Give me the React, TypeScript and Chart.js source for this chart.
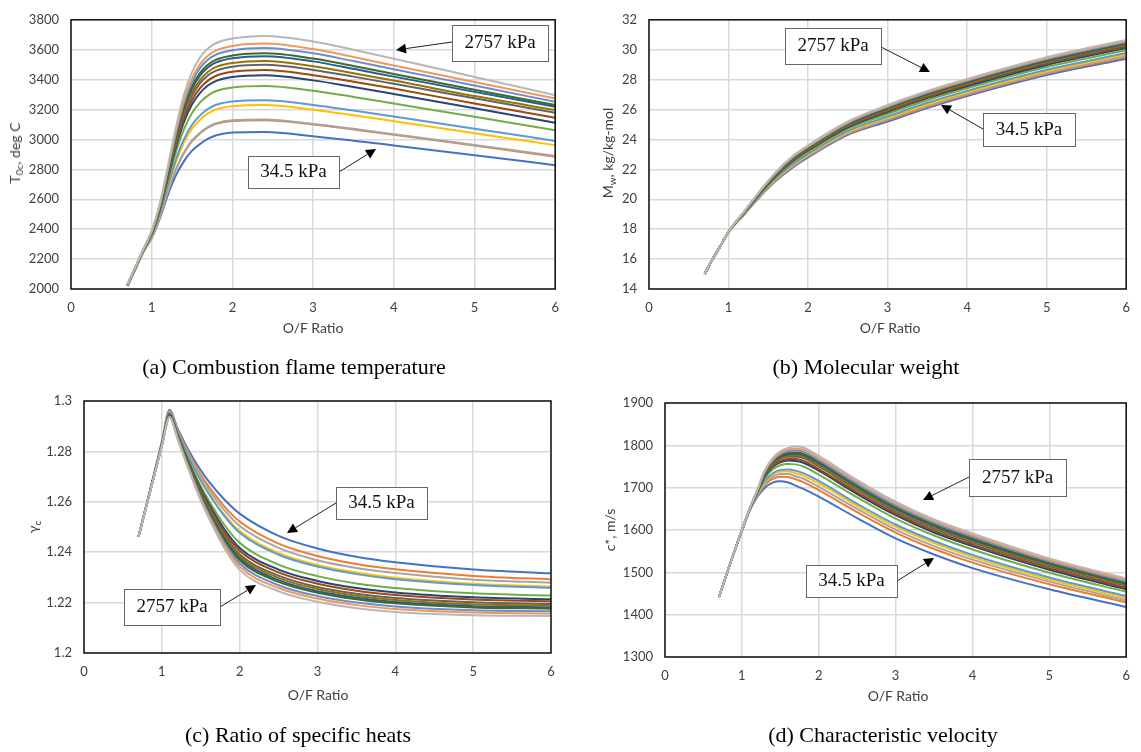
import React, { useEffect, useRef } from "react";
import { Chart, registerables } from "chart.js";
Chart.register(...registerables);

// Excel default series colours, series 1..15 (34.5 kPa ... 2757 kPa)
const COLORS = [
  "#4472C4", "#ED7D31", "#A5A5A5", "#FFC000", "#5B9BD5", "#70AD47", "#264478", "#9E480E",
  "#636363", "#997300", "#255E91", "#43682B", "#698ED0", "#F1975A", "#B7B7B7",
];

// ---------- (a) combustion flame temperature, deg C ----------
const OF_A = [0.7, 0.8, 0.9, 1.0, 1.1, 1.2, 1.3, 1.4, 1.5, 1.6, 1.7, 1.8, 2.0, 2.4, 3.0, 3.5, 4.0, 5.0, 6.0];
const TEMP = [
  [2020, 2135, 2250, 2340, 2470, 2630, 2760, 2855, 2925, 2970, 3005, 3028, 3046, 3050, 3022, 2992, 2960, 2895, 2828],
  [2021, 2137, 2252, 2346, 2481, 2652, 2798, 2909, 2989, 3041, 3080, 3104, 3124, 3129, 3100, 3067, 3031, 2959, 2885],
  [2021, 2137, 2253, 2347, 2483, 2655, 2802, 2913, 2993, 3045, 3084, 3108, 3128, 3133, 3104, 3071, 3035, 2963, 2889],
  [2023, 2139, 2256, 2354, 2498, 2683, 2850, 2980, 3072, 3132, 3174, 3201, 3222, 3230, 3199, 3162, 3122, 3041, 2962],
  [2023, 2140, 2257, 2357, 2503, 2693, 2866, 3002, 3098, 3161, 3205, 3232, 3254, 3262, 3231, 3193, 3153, 3072, 2990],
  [2025, 2142, 2260, 2364, 2518, 2721, 2914, 3069, 3177, 3248, 3295, 3324, 3348, 3358, 3326, 3284, 3240, 3152, 3062],
  [2026, 2144, 2262, 2370, 2529, 2742, 2949, 3118, 3235, 3312, 3362, 3392, 3417, 3429, 3395, 3351, 3304, 3208, 3112],
  [2026, 2145, 2263, 2372, 2535, 2753, 2966, 3142, 3264, 3344, 3395, 3426, 3452, 3464, 3430, 3386, 3340, 3240, 3145],
  [2027, 2146, 2264, 2375, 2540, 2763, 2984, 3167, 3293, 3376, 3429, 3460, 3486, 3499, 3465, 3420, 3372, 3275, 3178],
  [2027, 2146, 2265, 2377, 2544, 2771, 2997, 3184, 3314, 3399, 3453, 3485, 3511, 3525, 3490, 3442, 3394, 3290, 3197],
  [2028, 2147, 2266, 2380, 2549, 2780, 3013, 3207, 3340, 3428, 3483, 3515, 3543, 3557, 3522, 3472, 3420, 3318, 3219],
  [2028, 2147, 2266, 2381, 2552, 2786, 3022, 3220, 3356, 3446, 3501, 3534, 3562, 3576, 3541, 3491, 3438, 3332, 3230],
  [2029, 2148, 2268, 2384, 2558, 2796, 3040, 3244, 3384, 3478, 3534, 3568, 3596, 3612, 3576, 3524, 3470, 3360, 3252],
  [2029, 2149, 2268, 2386, 2562, 2805, 3054, 3264, 3408, 3504, 3562, 3596, 3625, 3641, 3604, 3551, 3494, 3384, 3274],
  [2030, 2150, 2270, 2390, 2570, 2820, 3080, 3300, 3450, 3550, 3610, 3645, 3675, 3692, 3655, 3600, 3540, 3418, 3296],
];

// ---------- (b) molecular weight, kg/kg-mol ----------
const OF_B = [0.7, 0.8, 0.9, 1.0, 1.2, 1.4, 1.6, 1.8, 2.0, 2.5, 3.0, 3.5, 4.0, 5.0, 6.0];
const MW = [
  [15.0, 16.0, 16.9, 17.80, 19.00, 20.20, 21.25, 22.10, 22.80, 24.30, 25.20, 26.10, 26.90, 28.30, 29.40],
  [15.0, 16.0, 16.9, 17.80, 19.02, 20.23, 21.30, 22.16, 22.86, 24.37, 25.29, 26.19, 26.99, 28.40, 29.50],
  [15.0, 16.0, 16.9, 17.81, 19.03, 20.26, 21.33, 22.21, 22.91, 24.43, 25.35, 26.26, 27.06, 28.47, 29.58],
  [15.0, 16.0, 16.9, 17.81, 19.04, 20.29, 21.38, 22.27, 22.98, 24.50, 25.44, 26.35, 27.15, 28.56, 29.68],
  [15.0, 16.0, 16.9, 17.82, 19.06, 20.32, 21.43, 22.33, 23.04, 24.57, 25.53, 26.45, 27.25, 28.66, 29.78],
  [15.0, 16.0, 16.9, 17.82, 19.09, 20.38, 21.52, 22.44, 23.16, 24.71, 25.70, 26.62, 27.42, 28.84, 29.96],
  [15.0, 16.0, 16.9, 17.83, 19.11, 20.43, 21.59, 22.53, 23.26, 24.81, 25.83, 26.76, 27.56, 28.98, 30.11],
  [15.0, 16.0, 16.9, 17.83, 19.13, 20.46, 21.63, 22.58, 23.31, 24.88, 25.90, 26.84, 27.64, 29.07, 30.20],
  [15.0, 16.0, 16.9, 17.84, 19.14, 20.48, 21.68, 22.63, 23.37, 24.94, 25.98, 26.92, 27.72, 29.15, 30.29],
  [15.0, 16.0, 16.9, 17.84, 19.15, 20.50, 21.70, 22.66, 23.40, 24.98, 26.03, 26.96, 27.76, 29.20, 30.34],
  [15.0, 16.0, 16.9, 17.84, 19.16, 20.52, 21.73, 22.70, 23.44, 25.02, 26.08, 27.02, 27.82, 29.26, 30.40],
  [15.0, 16.0, 16.9, 17.84, 19.17, 20.54, 21.75, 22.73, 23.47, 25.06, 26.12, 27.07, 27.87, 29.31, 30.45],
  [15.0, 16.0, 16.9, 17.84, 19.18, 20.56, 21.78, 22.77, 23.51, 25.10, 26.18, 27.12, 27.92, 29.37, 30.51],
  [15.0, 16.0, 16.9, 17.85, 19.19, 20.58, 21.81, 22.81, 23.55, 25.15, 26.23, 27.18, 27.98, 29.43, 30.58],
  [15.0, 16.0, 16.9, 17.85, 19.20, 20.60, 21.85, 22.85, 23.60, 25.20, 26.30, 27.25, 28.05, 29.50, 30.65],
];

// ---------- (c) ratio of specific heats ----------
const OF_C = [0.7, 0.8, 0.9, 1.0, 1.1, 1.2, 1.3, 1.4, 1.5, 1.6, 1.8, 2.0, 2.5, 3.0, 3.5, 4.0, 5.0, 6.0];
const GAMMA = [
  [1.2461, 1.2585, 1.2710, 1.2838, 1.2965, 1.2893, 1.2830, 1.2774, 1.2725, 1.2682, 1.2610, 1.2553, 1.2465, 1.2415, 1.2382, 1.2360, 1.2331, 1.2316],
  [1.2461, 1.2584, 1.2709, 1.2835, 1.2961, 1.2887, 1.2821, 1.2761, 1.2708, 1.2662, 1.2583, 1.2522, 1.2434, 1.2385, 1.2353, 1.2332, 1.2306, 1.2292],
  [1.2461, 1.2584, 1.2708, 1.2834, 1.2958, 1.2884, 1.2816, 1.2754, 1.2699, 1.2650, 1.2568, 1.2504, 1.2417, 1.2368, 1.2337, 1.2317, 1.2291, 1.2279],
  [1.2461, 1.2583, 1.2707, 1.2832, 1.2956, 1.2880, 1.2810, 1.2746, 1.2688, 1.2637, 1.2550, 1.2484, 1.2397, 1.2349, 1.2319, 1.2299, 1.2275, 1.2264],
  [1.2461, 1.2583, 1.2707, 1.2832, 1.2955, 1.2879, 1.2808, 1.2743, 1.2684, 1.2633, 1.2545, 1.2477, 1.2390, 1.2343, 1.2313, 1.2293, 1.2270, 1.2259],
  [1.2461, 1.2582, 1.2705, 1.2829, 1.2949, 1.2872, 1.2796, 1.2726, 1.2663, 1.2607, 1.2510, 1.2437, 1.2351, 1.2305, 1.2276, 1.2258, 1.2237, 1.2228],
  [1.2461, 1.2582, 1.2704, 1.2827, 1.2947, 1.2868, 1.2790, 1.2718, 1.2652, 1.2594, 1.2493, 1.2417, 1.2331, 1.2286, 1.2258, 1.2240, 1.2221, 1.2213],
  [1.2461, 1.2582, 1.2703, 1.2826, 1.2945, 1.2866, 1.2787, 1.2713, 1.2646, 1.2586, 1.2483, 1.2406, 1.2320, 1.2275, 1.2247, 1.2230, 1.2212, 1.2205],
  [1.2461, 1.2581, 1.2703, 1.2825, 1.2943, 1.2864, 1.2783, 1.2708, 1.2639, 1.2578, 1.2472, 1.2392, 1.2307, 1.2262, 1.2235, 1.2218, 1.2201, 1.2194],
  [1.2461, 1.2581, 1.2702, 1.2824, 1.2942, 1.2862, 1.2781, 1.2704, 1.2634, 1.2572, 1.2464, 1.2384, 1.2298, 1.2254, 1.2227, 1.2210, 1.2193, 1.2188],
  [1.2461, 1.2581, 1.2702, 1.2824, 1.2941, 1.2860, 1.2778, 1.2700, 1.2629, 1.2566, 1.2456, 1.2375, 1.2289, 1.2245, 1.2219, 1.2202, 1.2186, 1.2181],
  [1.2461, 1.2581, 1.2702, 1.2823, 1.2940, 1.2859, 1.2776, 1.2698, 1.2625, 1.2562, 1.2451, 1.2368, 1.2282, 1.2239, 1.2213, 1.2197, 1.2181, 1.2176],
  [1.2461, 1.2581, 1.2701, 1.2822, 1.2938, 1.2857, 1.2772, 1.2692, 1.2618, 1.2553, 1.2439, 1.2355, 1.2269, 1.2226, 1.2200, 1.2185, 1.2170, 1.2166],
  [1.2461, 1.2580, 1.2701, 1.2821, 1.2937, 1.2855, 1.2769, 1.2688, 1.2612, 1.2546, 1.2430, 1.2343, 1.2258, 1.2216, 1.2190, 1.2175, 1.2161, 1.2157],
  [1.2461, 1.2580, 1.2700, 1.2820, 1.2935, 1.2852, 1.2765, 1.2682, 1.2605, 1.2537, 1.2418, 1.2330, 1.2245, 1.2203, 1.2178, 1.2163, 1.2150, 1.2147],
];

// ---------- (d) characteristic velocity, m/s ----------
const OF_D = [0.7, 0.8, 0.9, 1.0, 1.1, 1.2, 1.3, 1.4, 1.5, 1.6, 1.7, 1.8, 2.0, 2.5, 3.0, 3.5, 4.0, 5.0, 6.0];
const CSTAR = [
  [1440, 1495, 1548, 1598, 1645, 1678, 1700, 1712, 1715, 1712, 1705, 1697, 1679, 1628, 1580, 1542, 1510, 1460, 1418],
  [1440, 1495, 1548, 1598, 1646, 1681, 1707, 1721, 1726, 1725, 1720, 1713, 1694, 1642, 1594, 1555, 1523, 1472, 1429],
  [1440, 1495, 1548, 1598, 1646, 1682, 1710, 1726, 1732, 1732, 1727, 1721, 1702, 1650, 1601, 1562, 1530, 1478, 1434],
  [1440, 1495, 1548, 1599, 1647, 1683, 1713, 1731, 1738, 1738, 1734, 1728, 1710, 1657, 1608, 1569, 1536, 1483, 1439],
  [1440, 1495, 1548, 1599, 1647, 1685, 1716, 1734, 1742, 1743, 1740, 1734, 1716, 1662, 1613, 1574, 1541, 1488, 1444],
  [1440, 1495, 1548, 1599, 1648, 1687, 1723, 1743, 1753, 1756, 1755, 1750, 1731, 1677, 1627, 1587, 1554, 1499, 1454],
  [1440, 1495, 1548, 1599, 1648, 1689, 1727, 1749, 1760, 1764, 1763, 1759, 1740, 1685, 1635, 1594, 1562, 1506, 1460],
  [1440, 1495, 1548, 1599, 1648, 1690, 1729, 1751, 1763, 1768, 1768, 1764, 1744, 1689, 1639, 1598, 1566, 1510, 1464],
  [1440, 1495, 1548, 1600, 1649, 1691, 1731, 1755, 1768, 1773, 1773, 1770, 1750, 1695, 1644, 1603, 1571, 1514, 1468],
  [1440, 1495, 1548, 1600, 1649, 1691, 1733, 1757, 1770, 1776, 1777, 1773, 1754, 1698, 1648, 1607, 1574, 1517, 1470],
  [1440, 1495, 1548, 1600, 1649, 1692, 1734, 1760, 1773, 1779, 1780, 1777, 1758, 1702, 1651, 1610, 1577, 1520, 1473],
  [1440, 1495, 1548, 1600, 1649, 1692, 1736, 1761, 1775, 1782, 1783, 1780, 1761, 1705, 1654, 1613, 1580, 1522, 1475],
  [1440, 1495, 1548, 1600, 1650, 1693, 1738, 1764, 1779, 1786, 1788, 1785, 1765, 1709, 1658, 1617, 1584, 1526, 1478],
  [1440, 1495, 1548, 1600, 1650, 1694, 1740, 1767, 1782, 1790, 1792, 1790, 1770, 1714, 1663, 1621, 1588, 1529, 1482],
  [1440, 1495, 1548, 1600, 1650, 1695, 1742, 1770, 1786, 1794, 1797, 1795, 1775, 1718, 1667, 1625, 1592, 1533, 1485],
];

const X_TICK_MIN = 0;
const X_TICK_MAX = 6;

const TICK_FONT = { family: "Lato, 'Open Sans', sans-serif", size: 13 };
const TICK_COLOR = "#404040";
const GRID_COLOR = "#d9d9d9";

type Panel = {
  left: number; top: number; width: number; height: number;
  plotL: number; plotT: number; plotR: number; plotB: number;
  xs: number[]; series: number[][];
  yMin: number; yMax: number; yStep: number;
  fmt: (v: number) => string;
};

const PANELS: Panel[] = [
  { left: 0, top: 0, width: 570, height: 340, plotL: 71, plotT: 17, plotR: 556, plotB: 289,
    xs: OF_A, series: TEMP, yMin: 2000, yMax: 3800, yStep: 200, fmt: (v) => String(Math.round(v)) },
  { left: 570, top: 0, width: 571, height: 340, plotL: 649, plotT: 16, plotR: 1131, plotB: 289,
    xs: OF_B, series: MW, yMin: 14, yMax: 32, yStep: 2, fmt: (v) => String(Math.round(v)) },
  { left: 0, top: 380, width: 570, height: 330, plotL: 84, plotT: 401, plotR: 551, plotB: 653,
    xs: OF_C, series: GAMMA, yMin: 1.2, yMax: 1.3, yStep: 0.02, fmt: (v) => String(Number(v.toFixed(2))) },
  { left: 570, top: 380, width: 571, height: 330, plotL: 665, plotT: 403, plotR: 1130, plotB: 657,
    xs: OF_D, series: CSTAR, yMin: 1300, yMax: 1900, yStep: 100, fmt: (v) => String(Math.round(v)) },
];

const framePlugin = {
  id: "frame",
  afterDraw(chart: any) {
    const { ctx, chartArea } = chart;
    const { left, top, right, bottom } = chartArea;
    ctx.save();
    ctx.strokeStyle = "#111";
    ctx.lineWidth = 1.5;
    ctx.strokeRect(left, top, right - left, bottom - top);
    ctx.restore();
  },
};

function PanelChart({ p }: { p: Panel }) {
  const ref = useRef<HTMLCanvasElement>(null);
  useEffect(() => {
    const canvas = ref.current;
    if (!canvas) return;
    const xAxisH = 30;
    const yAxisW = p.plotL - p.left;
    const padTop = p.plotT - p.top;
    const padRight = p.left + p.width - p.plotR;
    const padBottom = p.top + p.height - p.plotB - xAxisH;
    const n = p.series.length;
    const chart = new Chart(canvas, {
      type: "line",
      data: {
        datasets: p.series.map((s, i) => ({
          label: "Series " + (i + 1),
          data: s.map((y, j) => ({ x: p.xs[j], y })),
          borderColor: COLORS[i],
          backgroundColor: COLORS[i],
          borderWidth: 2,
          pointRadius: 0,
          fill: false,
          cubicInterpolationMode: "monotone" as const,
          order: n - i,
        })),
      },
      options: {
        animation: false,
        responsive: false,
        maintainAspectRatio: false,
        devicePixelRatio: 1,
        layout: { padding: { left: 0, top: padTop, right: padRight, bottom: padBottom } },
        plugins: { legend: { display: false }, tooltip: { enabled: false } },
        scales: {
          x: {
            type: "linear",
            min: X_TICK_MIN,
            max: X_TICK_MAX,
            afterFit: (s: any) => { s.height = xAxisH; },
            ticks: { stepSize: 1, padding: 11, color: TICK_COLOR, font: TICK_FONT, maxRotation: 0, autoSkip: false },
            grid: { color: GRID_COLOR, lineWidth: 1.5, drawTicks: false },
            border: { display: false },
          },
          y: {
            type: "linear",
            min: p.yMin,
            max: p.yMax,
            afterFit: (s: any) => { s.width = yAxisW; },
            ticks: { stepSize: p.yStep, padding: 12, color: TICK_COLOR, font: TICK_FONT, callback: (v: any) => p.fmt(Number(v)) },
            grid: { color: GRID_COLOR, lineWidth: 1.5, drawTicks: false },
            border: { display: false },
          },
        },
      },
      plugins: [framePlugin],
    });
    return () => chart.destroy();
  }, [p]);
  return (
    <canvas
      ref={ref}
      width={p.width}
      height={p.height}
      style={{ position: "absolute", left: p.left, top: p.top, width: p.width, height: p.height }}
    />
  );
}

const NOTES = [
  { text: "2757 kPa", box: [452, 25, 96, 36], from: [452, 42], to: [396, 50] },
  { text: "34.5 kPa", box: [248, 156, 91, 32], from: [339, 172], to: [376, 149] },
  { text: "2757 kPa", box: [785, 28, 96, 36], from: [881, 47], to: [930, 72] },
  { text: "34.5 kPa", box: [983, 113, 92, 33], from: [983, 129], to: [941, 105] },
  { text: "34.5 kPa", box: [336, 487, 91, 32], from: [336, 503], to: [287, 533] },
  { text: "2757 kPa", box: [124, 589, 96, 36], from: [220, 607], to: [256, 585] },
  { text: "2757 kPa", box: [969, 459, 97, 37], from: [969, 477], to: [923, 500] },
  { text: "34.5 kPa", box: [806, 565, 91, 32], from: [897, 581], to: [934, 558] },
];

function Arrow({ from, to }: { from: number[]; to: number[] }) {
  const dx = to[0] - from[0];
  const dy = to[1] - from[1];
  const len = Math.hypot(dx, dy);
  const ux = dx / len, uy = dy / len;
  const hl = 10, hw = 5;
  const bx = to[0] - ux * hl, by = to[1] - uy * hl;
  const pts = `${to[0]},${to[1]} ${bx - uy * hw},${by + ux * hw} ${bx + uy * hw},${by - ux * hw}`;
  return (
    <g>
      <line x1={from[0]} y1={from[1]} x2={bx} y2={by} stroke="#222" strokeWidth={1} />
      <polygon points={pts} fill="#000" />
    </g>
  );
}

const AXIS_TEXT: React.CSSProperties = {
  position: "absolute",
  fontFamily: "Lato, 'Open Sans', sans-serif",
  fontSize: 14,
  color: TICK_COLOR,
  whiteSpace: "nowrap",
  lineHeight: "16px",
};

function XTitle({ x, y }: { x: number; y: number }) {
  return <div style={{ ...AXIS_TEXT, left: x, top: y, transform: "translate(-50%,-50%)" }}>O/F Ratio</div>;
}

function YTitle({ x, y, children }: { x: number; y: number; children: React.ReactNode }) {
  return (
    <div style={{ ...AXIS_TEXT, left: x, top: y, transform: "translate(-50%,-50%) rotate(-90deg)" }}>{children}</div>
  );
}

const SUB: React.CSSProperties = { fontSize: 10, verticalAlign: "-3px", lineHeight: 0 };

const CAPTION: React.CSSProperties = {
  position: "absolute",
  fontFamily: "'Liberation Serif', 'DejaVu Serif', serif",
  fontSize: 22,
  color: "#000",
  whiteSpace: "nowrap",
  transform: "translate(-50%,-50%)",
};

export default function App() {
  return (
    <div style={{ position: "absolute", left: 0, top: 0, width: 1141, height: 752, background: "#fff", overflow: "hidden" }}>
      {PANELS.map((p, i) => (
        <PanelChart key={i} p={p} />
      ))}
      <XTitle x={313} y={328} />
      <XTitle x={890} y={328} />
      <XTitle x={318} y={695} />
      <XTitle x={898} y={696} />
      <YTitle x={15} y={153}>
        T<span style={SUB}>0c</span>, deg C
      </YTitle>
      <YTitle x={608} y={153}>
        M<span style={SUB}>w</span>, kg/kg-mol
      </YTitle>
      <YTitle x={33} y={527}>
        γ<span style={SUB}>c</span>
      </YTitle>
      <YTitle x={610} y={530}>
        c*, m/s
      </YTitle>
      <svg width={1141} height={752} style={{ position: "absolute", left: 0, top: 0, pointerEvents: "none" }}>
        {NOTES.map((n, i) => (
          <g key={i}>
            <Arrow from={n.from} to={n.to} />
            <rect x={n.box[0] + 0.5} y={n.box[1] + 0.5} width={n.box[2]} height={n.box[3]} fill="#fff" stroke="#666" strokeWidth={1} />
            <text
              x={n.box[0] + n.box[2] / 2}
              y={n.box[1] + n.box[3] / 2 + 1}
              textAnchor="middle"
              dominantBaseline="middle"
              fontFamily="'Liberation Serif', serif"
              fontSize={19}
              fill="#111"
            >
              {n.text}
            </text>
          </g>
        ))}
      </svg>
      <div style={{ ...CAPTION, left: 294, top: 367 }}>(a) Combustion flame temperature</div>
      <div style={{ ...CAPTION, left: 866, top: 367 }}>(b) Molecular weight</div>
      <div style={{ ...CAPTION, left: 298, top: 735 }}>(c) Ratio of specific heats</div>
      <div style={{ ...CAPTION, left: 883, top: 735 }}>(d) Characteristic velocity</div>
    </div>
  );
}
